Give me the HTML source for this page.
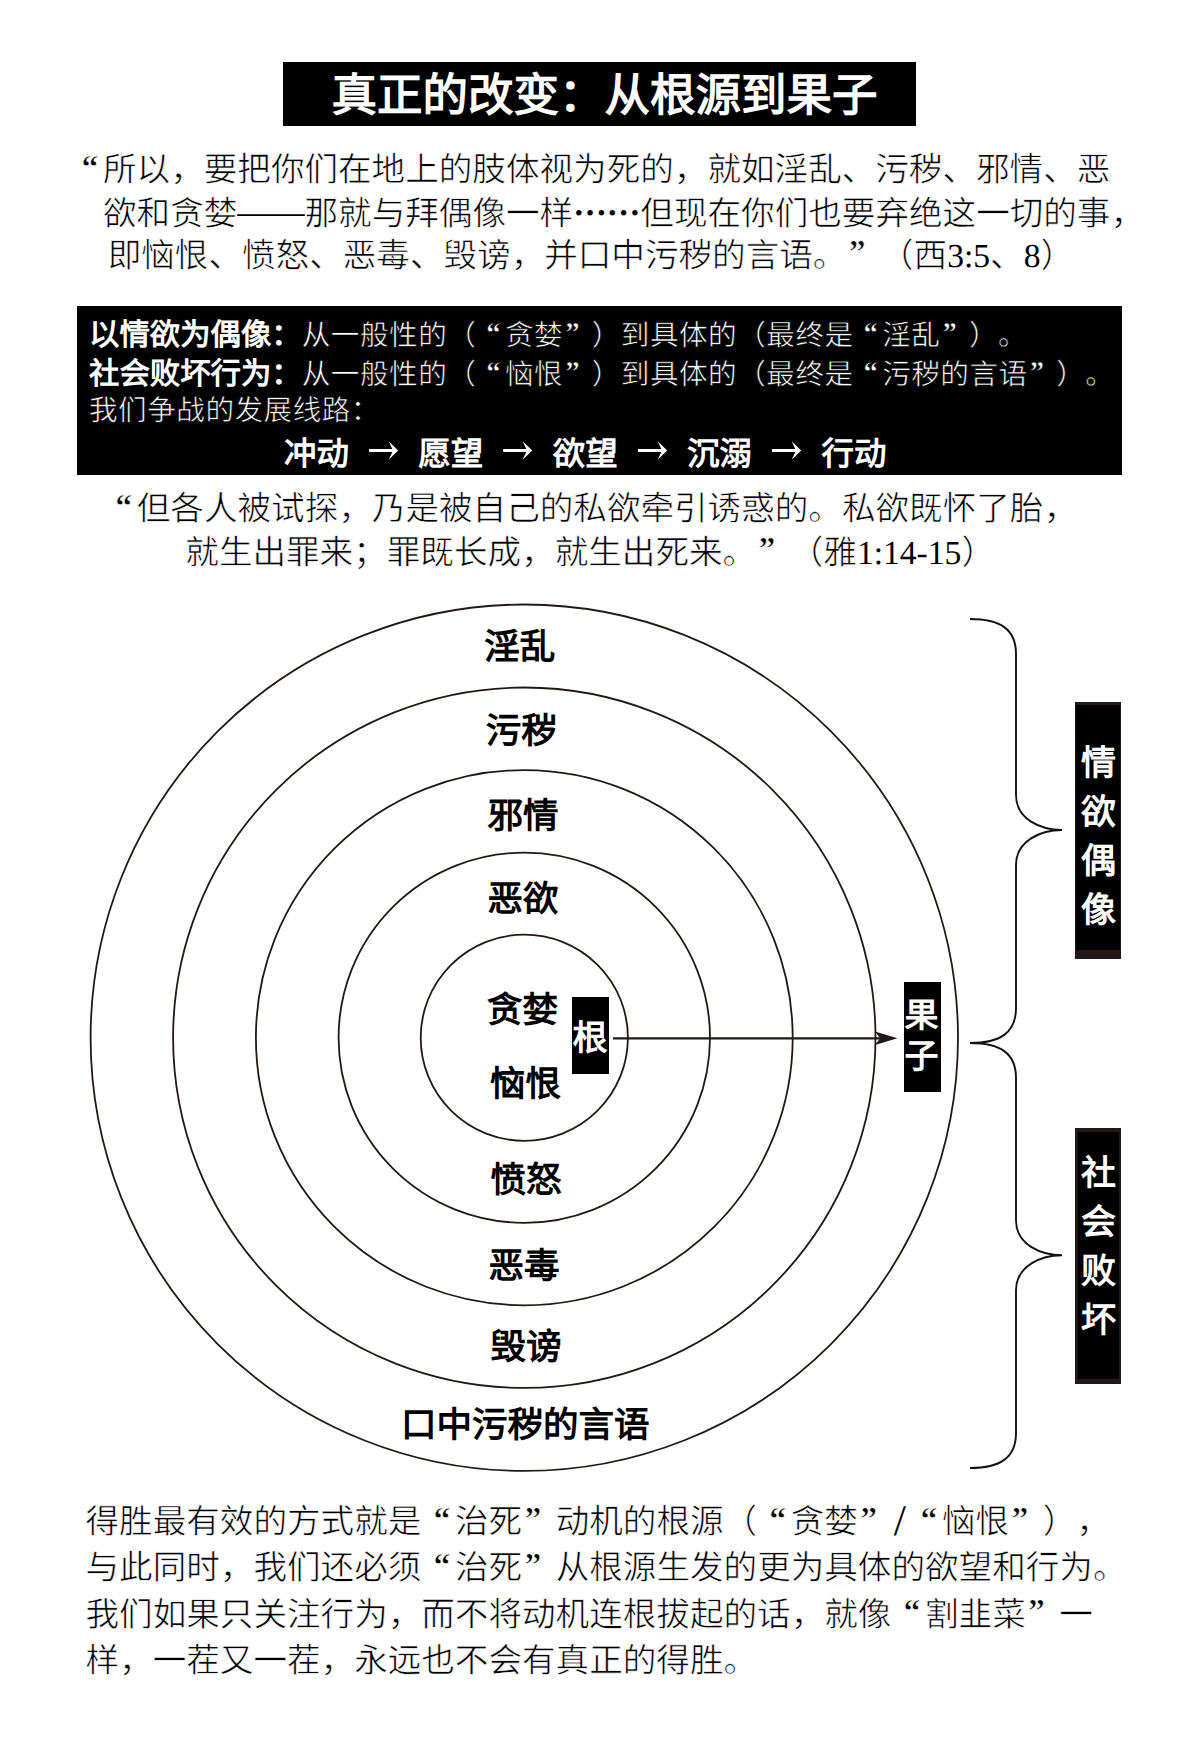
<!DOCTYPE html>
<html lang="zh-CN"><head><meta charset="utf-8"><title>真正的改变</title>
<style>
html,body{margin:0;padding:0;background:#fff}
body{width:1192px;height:1749px;position:relative;overflow:hidden;text-rendering:geometricPrecision;text-spacing-trim:space-all;font-family:"Liberation Serif",serif;color:#000}
.t{position:absolute;white-space:nowrap;line-height:1}
.b{font-weight:bold}
.ql{display:inline-block;width:1em;text-align:right;padding-right:.14em;box-sizing:border-box;font-weight:bold;position:relative;top:-.1em}
.qr{display:inline-block;width:1em;text-align:left;padding-left:.07em;box-sizing:border-box;font-weight:bold;position:relative;top:-.1em}
.ell{display:inline-block;width:1em;position:relative;top:-.3em;font-weight:bold;-webkit-text-stroke:0}
.dash{display:inline-block;width:1em;position:relative;top:-.06em;-webkit-text-stroke:0}
.sl{display:inline-block;width:.5em;text-align:center;-webkit-text-stroke:0;line-height:0}
.sl span{font-size:1.3em;line-height:0;position:relative;top:.05em}
.box{position:absolute;background:#000}
.th{-webkit-text-stroke:.6px #fff}
.lat{-webkit-text-stroke:0}
.thw{-webkit-text-stroke:.6px #000}
</style></head><body>
<div class="box" style="left:283px;top:62px;width:633px;height:64px"></div>
<div class="t " style="left:331.5px;top:73.0px;font-size:45.5px;font-weight:bold;color:#fff">真正的改变：从根源到果子</div>
<div class="t th" style="left:69.4px;top:154.0px;font-size:33.6px;"><span class="ql">“</span>所以，要把你们在地上的肢体视为死的，就如淫乱、污秽、邪情、恶</div>
<div class="t th" style="left:103.0px;top:198.3px;font-size:33.6px;">欲和贪婪<span class="dash">—</span><span class="dash">—</span>那就与拜偶像一样<span class="ell">…</span><span class="ell">…</span>但现在你们也要弃绝这一切的事，</div>
<div class="t th" style="left:107.7px;top:239.8px;font-size:33.6px;">即恼恨、愤怒、恶毒、毁谤，并口中污秽的言语。<span class="qr">”</span>（西<span class="lat">3:5</span>、<span class="lat">8</span>）</div>
<div class="box" style="left:77px;top:306px;width:1045px;height:169px"></div>
<div class="t " style="left:89.0px;top:319.5px;font-size:30.4px;color:#fff"><span class="b">以情欲为偶像：</span><span class="thw" style="font-size:28.6px;letter-spacing:.5px">从一般性的（<span class="ql">“</span>贪婪<span class="qr">”</span>）到具体的（最终是<span class="ql">“</span>淫乱<span class="qr">”</span>）。</span></div>
<div class="t " style="left:89.0px;top:358.8px;font-size:30.4px;color:#fff"><span class="b">社会败坏行为：</span><span class="thw" style="font-size:28.6px;letter-spacing:.5px">从一般性的（<span class="ql">“</span>恼恨<span class="qr">”</span>）到具体的（最终是<span class="ql">“</span>污秽的言语<span class="qr">”</span>）。</span></div>
<div class="t thw" style="left:89.0px;top:398.0px;font-size:28.6px;color:#fff;letter-spacing:.5px">我们争战的发展线路：</div>
<div class="t " style="left:283.9px;top:439.0px;font-size:32.5px;font-weight:bold;color:#fff">冲动</div>
<div class="t " style="left:418.3px;top:439.0px;font-size:32.5px;font-weight:bold;color:#fff">愿望</div>
<div class="t " style="left:552.7px;top:439.0px;font-size:32.5px;font-weight:bold;color:#fff">欲望</div>
<div class="t " style="left:687.1px;top:439.0px;font-size:32.5px;font-weight:bold;color:#fff">沉溺</div>
<div class="t " style="left:821.5px;top:439.0px;font-size:32.5px;font-weight:bold;color:#fff">行动</div>
<svg style="position:absolute;left:368.8px;top:440.5px" width="30" height="19" viewBox="0 0 30 19"><path d="M0 7.9H24V10.9H0Z M19.7 0.2 L29.2 9.4 L19.7 18.8 L23.3 10.9 L23.3 7.9Z" fill="#fff"/></svg>
<svg style="position:absolute;left:503.2px;top:440.5px" width="30" height="19" viewBox="0 0 30 19"><path d="M0 7.9H24V10.9H0Z M19.7 0.2 L29.2 9.4 L19.7 18.8 L23.3 10.9 L23.3 7.9Z" fill="#fff"/></svg>
<svg style="position:absolute;left:637.6px;top:440.5px" width="30" height="19" viewBox="0 0 30 19"><path d="M0 7.9H24V10.9H0Z M19.7 0.2 L29.2 9.4 L19.7 18.8 L23.3 10.9 L23.3 7.9Z" fill="#fff"/></svg>
<svg style="position:absolute;left:772.0px;top:440.5px" width="30" height="19" viewBox="0 0 30 19"><path d="M0 7.9H24V10.9H0Z M19.7 0.2 L29.2 9.4 L19.7 18.8 L23.3 10.9 L23.3 7.9Z" fill="#fff"/></svg>
<div class="t th" style="left:103.2px;top:493.3px;font-size:33.6px;"><span class="ql">“</span>但各人被试探，乃是被自己的私欲牵引诱惑的。私欲既怀了胎，</div>
<div class="t th" style="left:185.3px;top:536.7px;font-size:33.6px;">就生出罪来；罪既长成，就生出死来。<span class="qr">”</span>（雅<span class="lat">1:14-15</span>）</div>
<div class="t th" style="left:85.5px;top:1506.0px;font-size:33.6px;">得胜最有效的方式就是<span class="ql">“</span>治死<span class="qr">”</span>动机的根源（<span class="ql">“</span>贪婪<span class="qr">”</span><span class="sl"><span>/</span></span><span class="ql">“</span>恼恨<span class="qr">”</span>），</div>
<div class="t th" style="left:85.5px;top:1552.4px;font-size:33.6px;">与此同时，我们还必须<span class="ql">“</span>治死<span class="qr">”</span>从根源生发的更为具体的欲望和行为。</div>
<div class="t th" style="left:85.5px;top:1598.8px;font-size:33.6px;">我们如果只关注行为，而不将动机连根拔起的话，就像<span class="ql">“</span>割韭菜<span class="qr">”</span>一</div>
<div class="t th" style="left:85.5px;top:1645.2px;font-size:33.6px;">样，一茬又一茬，永远也不会有真正的得胜。</div>
<svg style="position:absolute;left:0;top:0" width="1192" height="1749" viewBox="0 0 1192 1749"><ellipse cx="524.3" cy="1037.7" rx="433.7" ry="433.2" fill="none" stroke="#231815" stroke-width="1.8"/><ellipse cx="524.3" cy="1037.7" rx="351.2" ry="350.2" fill="none" stroke="#231815" stroke-width="1.8"/><ellipse cx="524.3" cy="1037.7" rx="268.4" ry="267.6" fill="none" stroke="#231815" stroke-width="1.8"/><ellipse cx="524.3" cy="1037.7" rx="185.7" ry="185.1" fill="none" stroke="#231815" stroke-width="1.8"/><ellipse cx="524.3" cy="1037.7" rx="103.6" ry="103.1" fill="none" stroke="#231815" stroke-width="1.8"/><path d="M613 1038.3H884" stroke="#231815" stroke-width="2.3" fill="none"/><path d="M897.5 1038.3 L875 1031.5 L880 1038.3 L875 1045Z" fill="#231815"/><path d="M970 619 C1000 619 1016 629 1016 654 L1016 795 C1016 820 1042 830 1062 830 C1042 830 1016 840 1016 865 L1016 1008 C1016 1033 1000 1043 970 1043" fill="none" stroke="#111" stroke-width="1.9"/><path d="M970 1043 C1000 1043 1016 1053 1016 1078 L1016 1220.3 C1016 1245.3 1042 1255.3 1062 1255.3 C1042 1255.3 1016 1265.3 1016 1290.3 L1016 1433 C1016 1458 1000 1468 970 1468" fill="none" stroke="#111" stroke-width="1.9"/></svg>
<div class="t " style="left:484.3px;top:629.7px;font-size:35.5px;font-weight:bold">淫乱</div>
<div class="t " style="left:485.7px;top:714.3px;font-size:35.5px;font-weight:bold">污秽</div>
<div class="t " style="left:487.4px;top:798.7px;font-size:35.5px;font-weight:bold">邪情</div>
<div class="t " style="left:487.5px;top:881.9px;font-size:35.5px;font-weight:bold">恶欲</div>
<div class="t " style="left:487.0px;top:993.3px;font-size:35.5px;font-weight:bold">贪婪</div>
<div class="t " style="left:490.0px;top:1067.3px;font-size:35.5px;font-weight:bold">恼恨</div>
<div class="t " style="left:490.5px;top:1163.4px;font-size:35.5px;font-weight:bold">愤怒</div>
<div class="t " style="left:488.6px;top:1249.0px;font-size:35.5px;font-weight:bold">恶毒</div>
<div class="t " style="left:490.4px;top:1329.5px;font-size:35.5px;font-weight:bold">毁谤</div>
<div class="t " style="left:401.1px;top:1407.6px;font-size:35.5px;font-weight:bold">口中污秽的言语</div>
<div class="box" style="left:572px;top:997px;width:37px;height:77px"></div>
<div class="t " style="left:572.5px;top:1021.0px;font-size:35px;font-weight:bold;color:#fff">根</div>
<div class="box" style="left:903.5px;top:981.7px;width:37px;height:110.3px"></div>
<div class="t " style="left:904.5px;top:999.5px;font-size:34px;font-weight:bold;color:#fff">果</div>
<div class="t " style="left:904.5px;top:1040.5px;font-size:34px;font-weight:bold;color:#fff">子</div>
<div class="box" style="left:1075px;top:702px;width:46px;height:256.5px;box-sizing:border-box;border:solid #231815;border-width:3px 1px 9.8px 1px;background:#000"></div>
<div class="t " style="left:1081.0px;top:745.5px;font-size:35px;font-weight:bold;color:#fff">情</div>
<div class="t " style="left:1081.0px;top:794.8px;font-size:35px;font-weight:bold;color:#fff">欲</div>
<div class="t " style="left:1081.0px;top:844.1px;font-size:35px;font-weight:bold;color:#fff">偶</div>
<div class="t " style="left:1081.0px;top:893.4px;font-size:35px;font-weight:bold;color:#fff">像</div>
<div class="box" style="left:1075px;top:1128px;width:46px;height:256px;box-sizing:border-box;border:solid #231815;border-width:4px 2px 5.5px 3px;background:#000"></div>
<div class="t " style="left:1081.0px;top:1155.5px;font-size:35px;font-weight:bold;color:#fff">社</div>
<div class="t " style="left:1081.0px;top:1204.8px;font-size:35px;font-weight:bold;color:#fff">会</div>
<div class="t " style="left:1081.0px;top:1254.1px;font-size:35px;font-weight:bold;color:#fff">败</div>
<div class="t " style="left:1081.0px;top:1303.4px;font-size:35px;font-weight:bold;color:#fff">坏</div>
</body></html>
